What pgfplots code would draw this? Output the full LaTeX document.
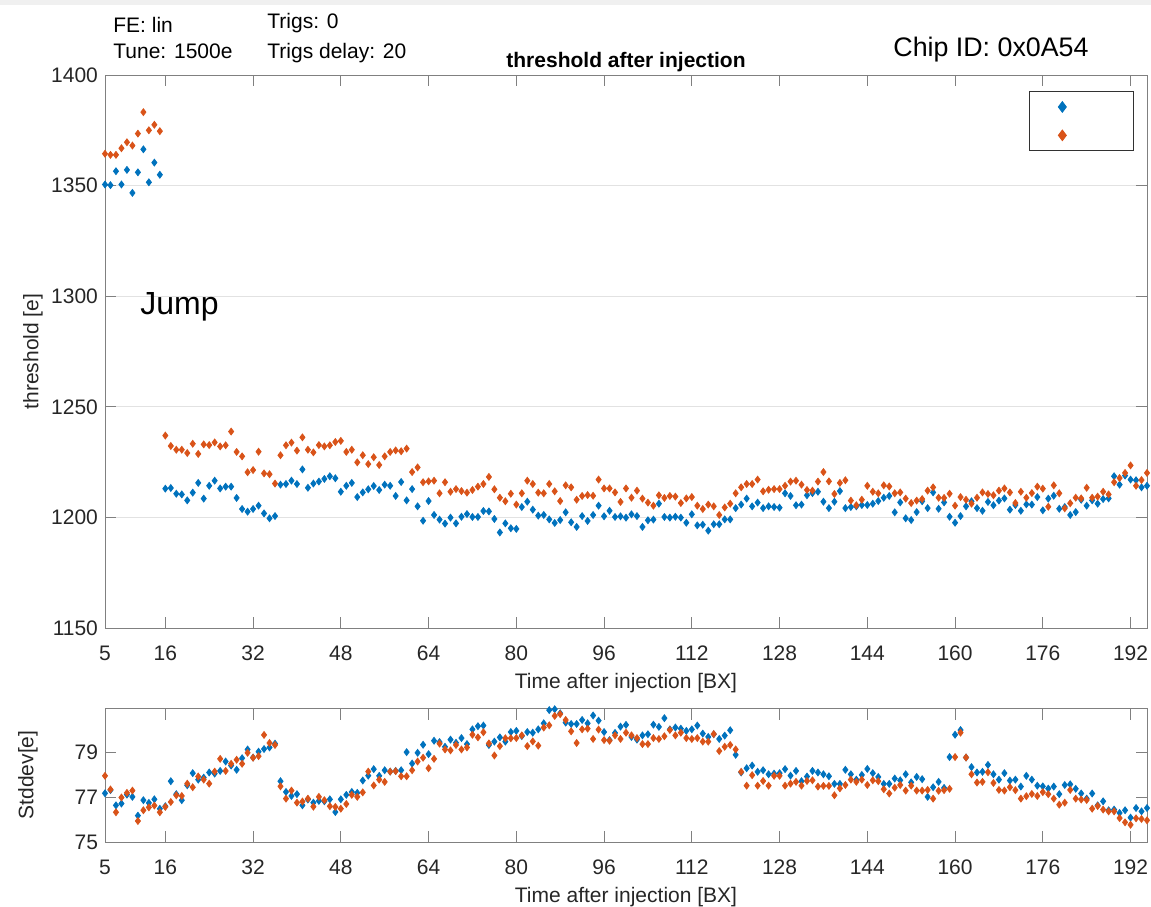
\documentclass[border=0pt]{standalone}
\usepackage{fontspec}
\setmainfont{Liberation Sans}
\usepackage{pgfplots}
\usepackage{pgfplotstable}
\pgfplotsset{compat=1.18}
\definecolor{mblue}{RGB}{0,114,189}
\definecolor{morange}{RGB}{217,83,25}
\definecolor{axgray}{RGB}{128,128,128}
\definecolor{txt}{RGB}{38,38,38}
\definecolor{gridc}{RGB}{226,226,226}
\definecolor{bggray}{RGB}{240,240,240}
\newcommand\ff{\fontsize{10.5pt}{12.5pt}\selectfont}

\pgfplotstableread{
n blue orange
5 1350.5 1364.4
6 1350.2 1363.9
7 1356.5 1363.9
8 1350.5 1366.9
9 1357.1 1369.6
10 1346.7 1368.1
11 1356.0 1373.5
12 1366.4 1383.2
13 1351.5 1375.0
14 1360.4 1377.5
15 1354.9 1374.6
16 1213.0 1237.0
17 1213.3 1232.3
18 1210.7 1230.6
19 1210.4 1230.6
20 1207.7 1229.1
21 1211.2 1233.3
22 1215.6 1228.7
23 1208.5 1233.0
24 1214.3 1232.7
25 1216.6 1233.9
26 1213.1 1232.1
27 1213.9 1232.6
28 1213.9 1238.8
29 1208.8 1229.6
30 1203.8 1227.6
31 1202.6 1220.4
32 1203.8 1221.4
33 1205.3 1229.7
34 1201.8 1219.9
35 1199.6 1219.5
36 1200.6 1215.3
37 1214.8 1228.1
38 1215.1 1232.6
39 1216.6 1233.8
40 1215.1 1230.2
41 1221.7 1236.2
42 1213.4 1230.6
43 1215.3 1229.4
44 1216.2 1232.7
45 1217.4 1232.1
46 1218.6 1232.6
47 1217.7 1234.1
48 1211.6 1234.6
49 1214.3 1229.6
50 1215.6 1230.6
51 1209.2 1224.9
52 1211.3 1228.1
53 1212.7 1224.1
54 1214.2 1227.2
55 1212.4 1223.7
56 1214.8 1227.6
57 1214.3 1229.6
58 1209.7 1230.3
59 1216.0 1229.9
60 1207.7 1231.1
61 1212.8 1220.5
62 1205.0 1222.6
63 1198.5 1215.9
64 1207.4 1216.3
65 1201.1 1216.6
66 1199.0 1210.9
67 1197.2 1215.9
68 1199.9 1211.6
69 1197.3 1212.8
70 1200.3 1211.9
71 1201.5 1211.2
72 1200.2 1212.4
73 1200.2 1213.9
74 1202.9 1215.1
75 1202.7 1218.3
76 1199.3 1212.7
77 1193.2 1208.9
78 1197.3 1207.3
79 1195.1 1210.7
80 1194.8 1205.8
81 1204.7 1210.9
82 1207.1 1216.6
83 1203.5 1215.1
84 1200.8 1211.2
85 1201.1 1210.9
86 1199.1 1215.1
87 1197.5 1211.8
88 1198.8 1207.4
89 1202.3 1214.5
90 1197.8 1213.6
91 1195.7 1208.0
92 1200.6 1209.7
93 1198.4 1210.1
94 1201.1 1209.8
95 1205.3 1217.1
96 1200.5 1213.1
97 1203.0 1213.1
98 1200.2 1211.3
99 1200.5 1207.0
100 1199.9 1213.1
101 1201.4 1208.9
102 1200.6 1212.1
103 1195.7 1208.5
104 1198.7 1206.7
105 1199.0 1205.3
106 1206.2 1210.0
107 1200.2 1208.8
108 1199.9 1209.7
109 1200.3 1209.4
110 1199.9 1206.5
111 1197.6 1208.6
112 1201.4 1209.2
113 1196.4 1205.3
114 1196.7 1203.8
115 1194.0 1205.8
116 1196.9 1205.0
117 1196.9 1201.1
118 1199.1 1204.5
119 1199.1 1206.2
120 1204.2 1210.9
121 1205.8 1213.6
122 1208.5 1215.1
123 1205.0 1215.1
124 1206.7 1217.1
125 1204.2 1211.8
126 1205.0 1212.5
127 1204.7 1212.8
128 1204.4 1212.8
129 1210.9 1214.3
130 1209.7 1216.2
131 1205.5 1216.6
132 1205.8 1214.8
133 1210.0 1212.4
134 1211.0 1212.1
135 1211.6 1216.2
136 1207.1 1220.5
137 1204.2 1216.3
138 1207.1 1210.6
139 1211.9 1215.6
140 1204.2 1216.8
141 1204.7 1207.6
142 1205.0 1205.5
143 1205.6 1208.0
144 1205.6 1214.3
145 1206.2 1211.6
146 1207.4 1210.9
147 1208.9 1214.5
148 1209.7 1214.0
149 1202.3 1210.9
150 1206.8 1211.3
151 1199.6 1208.5
152 1198.8 1206.5
153 1202.4 1207.6
154 1207.3 1208.3
155 1204.2 1212.1
156 1211.3 1213.6
157 1203.9 1208.9
158 1206.8 1208.8
159 1200.3 1210.7
160 1197.6 1205.3
161 1200.6 1209.2
162 1205.0 1208.0
163 1207.3 1206.2
164 1204.2 1208.9
165 1203.0 1211.3
166 1207.0 1210.6
167 1205.5 1210.0
168 1207.6 1212.1
169 1208.6 1213.1
170 1203.5 1211.3
171 1205.6 1206.5
172 1203.0 1211.6
173 1205.9 1208.9
174 1205.8 1211.0
175 1209.2 1213.9
176 1203.2 1213.0
177 1208.5 1204.8
178 1209.8 1214.5
179 1203.9 1210.9
180 1204.7 1204.1
181 1201.1 1206.4
182 1202.4 1208.9
183 1208.0 1208.6
184 1205.3 1213.4
185 1207.7 1208.9
186 1206.2 1209.4
187 1208.3 1211.6
188 1208.6 1210.4
189 1218.6 1215.9
190 1214.8 1217.8
191 1218.9 1220.1
192 1217.1 1223.5
193 1216.8 1214.3
194 1213.6 1216.9
195 1214.3 1220.1
}\topdata

\pgfplotstableread{
n blue orange
5 77.18 77.96
6 77.32 77.35
7 76.64 76.33
8 76.72 76.99
9 77.12 77.20
10 77.02 77.30
11 76.18 75.94
12 76.87 76.42
13 76.75 76.55
14 76.91 76.63
15 76.49 76.33
16 76.60 76.57
17 77.72 76.79
18 77.14 77.09
19 76.87 77.06
20 77.54 77.61
21 78.08 77.45
22 77.79 77.93
23 77.88 77.79
24 78.11 77.61
25 78.06 78.15
26 78.18 78.72
27 78.60 78.18
28 78.42 78.50
29 78.23 78.68
30 78.75 78.50
31 79.14 78.99
32 78.78 78.77
33 79.04 78.84
34 79.16 79.79
35 79.23 79.43
36 79.40 79.34
37 77.72 77.49
38 77.24 76.94
39 77.06 77.30
40 77.14 76.76
41 76.64 76.81
42 76.90 76.94
43 76.76 76.58
44 76.84 77.02
45 76.82 76.87
46 76.91 76.60
47 76.34 76.57
48 76.91 76.49
49 77.11 76.70
50 77.24 77.11
51 77.20 77.02
52 77.75 77.22
53 77.97 78.15
54 78.26 77.53
55 77.96 77.79
56 78.21 77.69
57 78.15 78.15
58 78.18 78.17
59 78.21 77.94
60 79.02 77.94
61 78.51 78.21
62 78.99 78.60
63 79.35 78.77
64 78.93 78.30
65 79.53 78.72
66 79.47 79.40
67 79.26 79.14
68 79.58 79.10
69 79.44 79.34
70 79.65 79.14
71 79.38 79.23
72 80.04 79.80
73 80.18 79.68
74 80.21 79.91
75 79.34 79.41
76 79.49 78.87
77 79.68 79.29
78 79.49 79.64
79 79.92 79.64
80 79.97 79.65
81 79.74 79.77
82 79.92 79.29
83 79.89 79.50
84 80.04 79.31
85 80.31 80.12
86 80.90 80.22
87 80.94 80.64
88 80.76 80.72
89 80.34 80.46
90 80.28 79.95
91 80.28 79.43
92 80.46 80.04
93 80.31 80.07
94 80.66 79.61
95 80.43 80.03
96 79.92 79.56
97 79.56 79.53
98 79.88 79.77
99 80.16 79.61
100 80.24 79.89
101 79.70 79.77
102 79.58 79.65
103 79.77 79.38
104 79.82 79.38
105 80.25 79.65
106 80.15 79.61
107 80.54 79.73
108 80.04 80.01
109 80.12 79.77
110 80.07 79.89
111 79.97 79.65
112 80.04 79.61
113 80.21 79.65
114 79.85 79.49
115 79.70 79.49
116 79.82 79.83
117 79.61 79.07
118 79.76 79.26
119 80.00 79.34
120 78.90 79.14
121 78.11 78.14
122 78.30 77.52
123 78.42 77.99
124 78.14 77.52
125 78.21 77.73
126 78.03 77.52
127 78.06 77.96
128 78.08 77.96
129 78.26 77.52
130 77.97 77.61
131 78.18 77.69
132 77.72 77.52
133 77.93 77.73
134 78.18 77.76
135 78.11 77.48
136 78.03 77.51
137 77.94 77.51
138 77.60 77.09
139 77.60 77.40
140 78.23 77.55
141 78.03 77.79
142 77.79 77.69
143 78.00 77.79
144 78.27 77.55
145 78.08 77.76
146 77.91 77.72
147 77.60 77.36
148 77.60 77.17
149 77.84 77.43
150 77.76 77.55
151 78.03 77.30
152 77.67 77.52
153 77.91 77.30
154 77.81 77.30
155 77.02 77.33
156 77.45 76.94
157 77.69 77.29
158 77.42 77.32
159 78.80 77.38
160 79.80 78.80
161 80.01 79.89
162 78.78 78.78
163 78.35 78.03
164 78.11 77.66
165 78.14 77.69
166 78.45 78.12
167 78.03 77.64
168 77.79 77.33
169 78.08 77.30
170 77.75 77.45
171 77.79 77.32
172 77.48 76.94
173 77.96 77.05
174 77.79 77.15
175 77.52 77.06
176 77.49 77.23
177 77.39 77.14
178 77.48 76.94
179 77.14 76.67
180 77.55 76.76
181 77.58 77.33
182 77.38 76.94
183 77.17 76.90
184 76.94 76.88
185 77.17 76.49
186 76.64 76.61
187 76.82 76.45
188 76.42 76.37
189 76.45 76.37
190 76.30 76.07
191 76.42 75.88
192 76.09 75.77
193 76.52 76.06
194 76.37 76.03
195 76.52 75.97
}\botdata

\pgfplotsset{
  mystyle/.style={
    scale only axis, width=521pt, anchor=south west,
    xmin=5, xmax=195,
    xtick={5,16,32,48,64,80,96,112,128,144,160,176,192},
    tick align=inside, tick pos=both, major tick length=5.5pt,
    axis line style={axgray, line width=0.5pt},
    every tick/.style={axgray, line width=0.5pt},
    ticklabel style={font=\ff, text=txt},
    label style={font=\ff, text=txt},
    /pgf/number format/assume math mode=true,
    /pgf/number format/1000 sep={},
    xticklabel style={yshift=-5.5pt},
  },
  mleg/.style={legend image code/.code={%
      \path[draw=none, fill=none] (0pt,-7.1pt) rectangle (51pt,7.1pt);
      \draw[##1, mark size=2.6pt] plot coordinates {(16.4pt,0pt)};}},
}

\begin{document}
\begin{tikzpicture}
\useasboundingbox (0,0) rectangle (575.5pt,453pt);
\fill[bggray] (0,450.5pt) rectangle (575.5pt,453pt);

\begin{axis}[mystyle, at={(52.5pt,139pt)}, height=276.5pt,
  ymin=1150, ymax=1400, ytick={1150,1200,1250,1300,1350,1400},
  ymajorgrids, major grid style={gridc, line width=0.5pt},
  xlabel={Time after injection [BX]}, ylabel={threshold [e]},
  xlabel style={at={(axis description cs:0.5,-0.0994)}, anchor=center},
  ylabel style={at={(axis description cs:-0.0691,0.5)}, anchor=center, rotate=0},
  legend style={at={(axis description cs:0.8868,0.971)}, anchor=north west,
    draw={rgb,255:red,50;green,50;blue,50}, line width=0.5pt, fill=white,
    inner xsep=0pt, inner ysep=0.6pt, nodes={inner sep=0pt, text depth=0pt},
    /tikz/column sep=0pt, /tikz/row sep=0pt},
]
\addplot[only marks, mark=diamond*, mark size=1.7pt, color=mblue, mleg] table[x=n, y=blue] {\topdata};
\addlegendentry{}
\addplot[only marks, mark=diamond*, mark size=1.7pt, color=morange, mleg] table[x=n, y=orange] {\topdata};
\addlegendentry{}
\end{axis}

\begin{axis}[mystyle, at={(52.5pt,32pt)}, height=66.5pt,
  ymin=75, ymax=80.95, ytick={75,77,79},
  xlabel={Time after injection [BX]}, ylabel={Stddev[e]},
  xlabel style={at={(axis description cs:0.5,-0.413)}, anchor=center},
  ylabel style={at={(axis description cs:-0.0739,0.504)}, anchor=center, rotate=0},
]
\addplot[only marks, mark=diamond*, mark size=1.7pt, color=mblue] table[x=n, y=blue] {\botdata};
\addplot[only marks, mark=diamond*, mark size=1.7pt, color=morange] table[x=n, y=orange] {\botdata};
\end{axis}

\node[anchor=west, inner sep=0pt, font=\ff] at (56.5pt,440.5pt) {FE: lin};
\node[anchor=west, inner sep=0pt, font=\ff] at (56.5pt,427.5pt) {Tune: 1500e};
\node[anchor=west, inner sep=0pt, font=\ff] at (133.5pt,441.5pt) {Trigs: 0};
\node[anchor=west, inner sep=0pt, font=\ff] at (133.5pt,426.5pt) {Trigs delay: 20};
\node[anchor=center, font=\ff\bfseries] at (313pt,422pt) {threshold after injection};
\node[anchor=west, inner sep=0pt, font=\fontsize{13.4pt}{16pt}\selectfont] at (446.5pt,428pt) {Chip ID: 0x0A54};
\node[anchor=west, font=\fontsize{16pt}{19pt}\selectfont, inner sep=0pt] at (70pt,299.5pt) {Jump};
\end{tikzpicture}
\end{document}
